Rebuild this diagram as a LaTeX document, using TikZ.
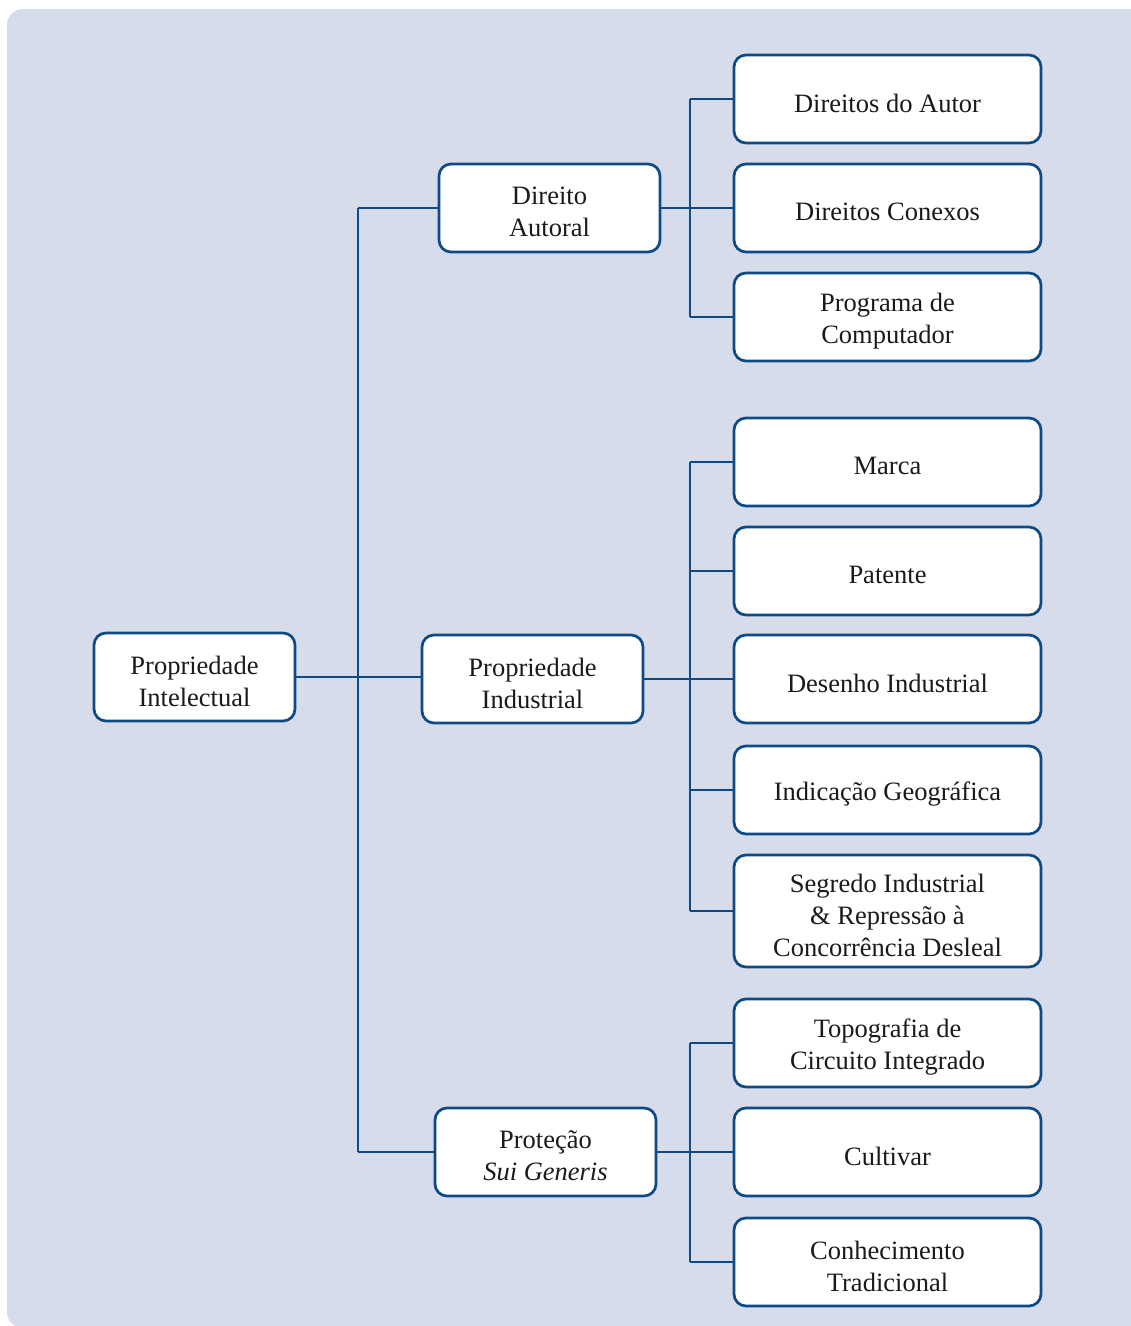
\documentclass[tikz,border=0pt]{standalone}
\usepackage{fontspec}
\setmainfont{Liberation Serif}
\definecolor{bgc}{HTML}{D6DCEA}
\definecolor{lnc}{HTML}{0D4A86}
\definecolor{txc}{HTML}{1A1A1A}
\begin{document}
\begin{tikzpicture}[x=1pt,y=-1pt,
  box/.style={draw=lnc, line width=2.7pt, fill=white, rounded corners=12pt,
    minimum height=88pt, inner sep=0pt},
  leaf/.style={box, minimum width=307pt},
  mid/.style={box, minimum width=221pt},
  lab/.style={label={[font=\fontsize{26.5}{32}\selectfont, align=center, text=txc,
    inner sep=0pt, yshift=-4pt]center:#1}},
  conn/.style={draw=lnc, line width=2.7pt}]
\useasboundingbox (0,0) rectangle (1131,1326);
\begin{scope}
\clip (0,0) rectangle (1131,1326);
\fill[bgc, rounded corners=16pt] (7,9) rectangle (1150,1328);
\end{scope}
% trunk coordinates
\coordinate (ta) at (358,208);
\coordinate (tb) at (358,1152);
\coordinate (g1a) at (690,99);
\coordinate (g1b) at (690,317);
\coordinate (g2a) at (690,462);
\coordinate (g2b) at (690,911);
\coordinate (g3a) at (690,1043);
\coordinate (g3b) at (690,1262);
% connectors (drawn first, boxes on top)
\draw[conn] (ta) -- (tb);
\draw[conn] (g1a) -- (g1b);
\draw[conn] (g2a) -- (g2b);
\draw[conn] (g3a) -- (g3b);
% nodes
\node[box, minimum width=201pt, lab={Propriedade\\Intelectual}] (root) at (194.5,677) {};
\node[mid, lab={Direito\\Autoral}] (da) at (549.5,208) {};
\node[mid, lab={Propriedade\\Industrial}] (pi) at (532.5,679) {};
\node[mid, lab={Proteção\\\textit{Sui Generis}}] (ps) at (545.5,1152) {};
\node[leaf, lab={Direitos do Autor}] (l1) at (887.5,99) {};
\node[leaf, lab={Direitos Conexos}] (l2) at (887.5,208) {};
\node[leaf, lab={Programa de\\Computador}] (l3) at (887.5,317) {};
\node[leaf, lab={Marca}] (l4) at (887.5,462) {};
\node[leaf, lab={Patente}] (l5) at (887.5,571) {};
\node[leaf, lab={Desenho Industrial}] (l6) at (887.5,679) {};
\node[leaf, lab={Indicação Geográfica}] (l7) at (887.5,790) {};
\node[leaf, minimum height=112pt, lab={Segredo Industrial\\\& Repressão à\\Concorrência Desleal}] (l8) at (887.5,911) {};
\node[leaf, lab={Topografia de\\Circuito Integrado}] (l9) at (887.5,1043) {};
\node[leaf, lab={Cultivar}] (l10) at (887.5,1152) {};
\node[leaf, lab={Conhecimento\\Tradicional}] (l11) at (887.5,1262) {};
% level 1
\draw[conn] (root.east) -- (root.east -| pi.west);
\draw[conn] (ta) -- (da.west);
\draw[conn] (tb) -- (ps.west);
% group 1
\draw[conn] (da.east) -- (l2.west);
\draw[conn] (g1a) -- (l1.west);
\draw[conn] (g1b) -- (l3.west);
% group 2
\draw[conn] (pi.east) -- (l6.west);
\draw[conn] (g2a) -- (l4.west);
\draw[conn] (g2a |- l5.west) -- (l5.west);
\draw[conn] (g2a |- l7.west) -- (l7.west);
\draw[conn] (g2b) -- (l8.west);
% group 3
\draw[conn] (ps.east) -- (l10.west);
\draw[conn] (g3a) -- (l9.west);
\draw[conn] (g3b) -- (l11.west);
\end{tikzpicture}
\end{document}
